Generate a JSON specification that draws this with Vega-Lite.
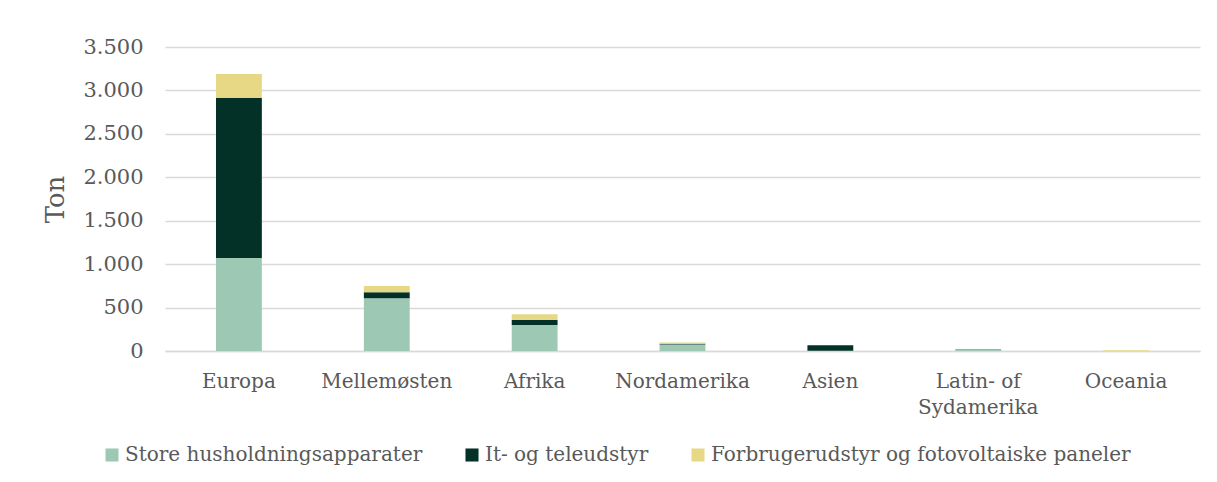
{
  "$schema": "https://vega.github.io/schema/vega-lite/v6.json",
  "width": 1035,
  "height": 304,
  "autosize": {"type": "none"},
  "padding": {"left": 165, "top": 47, "right": 17, "bottom": 131},
  "background": "white",
  "config": {
    "font": "DejaVu Serif",
    "view": {"stroke": null},
    "axis": {"labelColor": "#595959", "titleColor": "#595959", "labelFont": "DejaVu Serif", "titleFont": "DejaVu Serif"},
    "legend": {"labelColor": "#595959", "labelFont": "DejaVu Serif"}
  },
  "data": {
    "values": [
      {"region": "Europa", "kategori": "Store husholdningsapparater", "ord": 1, "ton": 1070},
      {"region": "Europa", "kategori": "It- og teleudstyr", "ord": 2, "ton": 1845},
      {"region": "Europa", "kategori": "Forbrugerudstyr og fotovoltaiske paneler", "ord": 3, "ton": 275},
      {"region": "Mellemøsten", "kategori": "Store husholdningsapparater", "ord": 1, "ton": 607},
      {"region": "Mellemøsten", "kategori": "It- og teleudstyr", "ord": 2, "ton": 69},
      {"region": "Mellemøsten", "kategori": "Forbrugerudstyr og fotovoltaiske paneler", "ord": 3, "ton": 72},
      {"region": "Afrika", "kategori": "Store husholdningsapparater", "ord": 1, "ton": 300},
      {"region": "Afrika", "kategori": "It- og teleudstyr", "ord": 2, "ton": 57},
      {"region": "Afrika", "kategori": "Forbrugerudstyr og fotovoltaiske paneler", "ord": 3, "ton": 65},
      {"region": "Nordamerika", "kategori": "Store husholdningsapparater", "ord": 1, "ton": 75},
      {"region": "Nordamerika", "kategori": "It- og teleudstyr", "ord": 2, "ton": 8},
      {"region": "Nordamerika", "kategori": "Forbrugerudstyr og fotovoltaiske paneler", "ord": 3, "ton": 14},
      {"region": "Asien", "kategori": "Store husholdningsapparater", "ord": 1, "ton": 3},
      {"region": "Asien", "kategori": "It- og teleudstyr", "ord": 2, "ton": 62},
      {"region": "Asien", "kategori": "Forbrugerudstyr og fotovoltaiske paneler", "ord": 3, "ton": 0},
      {"region": "Latin- of Sydamerika", "kategori": "Store husholdningsapparater", "ord": 1, "ton": 16},
      {"region": "Latin- of Sydamerika", "kategori": "It- og teleudstyr", "ord": 2, "ton": 4},
      {"region": "Latin- of Sydamerika", "kategori": "Forbrugerudstyr og fotovoltaiske paneler", "ord": 3, "ton": 0},
      {"region": "Oceania", "kategori": "Store husholdningsapparater", "ord": 1, "ton": 0},
      {"region": "Oceania", "kategori": "It- og teleudstyr", "ord": 2, "ton": 0},
      {"region": "Oceania", "kategori": "Forbrugerudstyr og fotovoltaiske paneler", "ord": 3, "ton": 8}
    ]
  },
  "mark": {"type": "bar"},
  "encoding": {
    "x": {
      "field": "region",
      "type": "nominal",
      "sort": null,
      "scale": {"paddingInner": 0.69, "paddingOuter": 0.345},
      "axis": {
        "title": null,
        "labelAngle": 0,
        "labelFontSize": 20,
        "labelPadding": 20,
        "labelLineHeight": 26,
        "labelBaseline": "top",
        "ticks": false,
        "domainColor": "#d9d9d9",
        "domainWidth": 1.5,
        "labelLimit": 0,
        "labelExpr": "datum.value == 'Latin- of Sydamerika' ? ['Latin- of', 'Sydamerika'] : datum.value"
      }
    },
    "y": {
      "field": "ton",
      "type": "quantitative",
      "stack": "zero",
      "scale": {"domain": [0, 3500]},
      "axis": {
        "title": "Ton",
        "titleFontSize": 26,
        "titleFontWeight": "normal",
        "titlePadding": 14,
        "values": [0, 500, 1000, 1500, 2000, 2500, 3000, 3500],
        "format": ",.0f",
        "labelExpr": "replace(datum.label, ',', '.')",
        "labelFontSize": 21,
        "labelPadding": 22,
        "ticks": false,
        "domain": false,
        "gridColor": "#d9d9d9",
        "gridWidth": 1.5
      }
    },
    "color": {
      "field": "kategori",
      "type": "nominal",
      "sort": ["Store husholdningsapparater", "It- og teleudstyr", "Forbrugerudstyr og fotovoltaiske paneler"],
      "scale": {
        "domain": ["Store husholdningsapparater", "It- og teleudstyr", "Forbrugerudstyr og fotovoltaiske paneler"],
        "range": ["#9dc9b4", "#033027", "#e6d884"]
      },
      "legend": {
        "title": null,
        "orient": "none",
        "legendX": -63,
        "legendY": 398,
        "direction": "horizontal",
        "symbolType": "square",
        "symbolSize": 170,
        "symbolStrokeWidth": 0,
        "labelFontSize": 20,
        "labelLimit": 0,
        "labelOffset": 3,
        "columnPadding": 39
      }
    },
    "order": {"field": "ord", "type": "quantitative"}
  }
}
